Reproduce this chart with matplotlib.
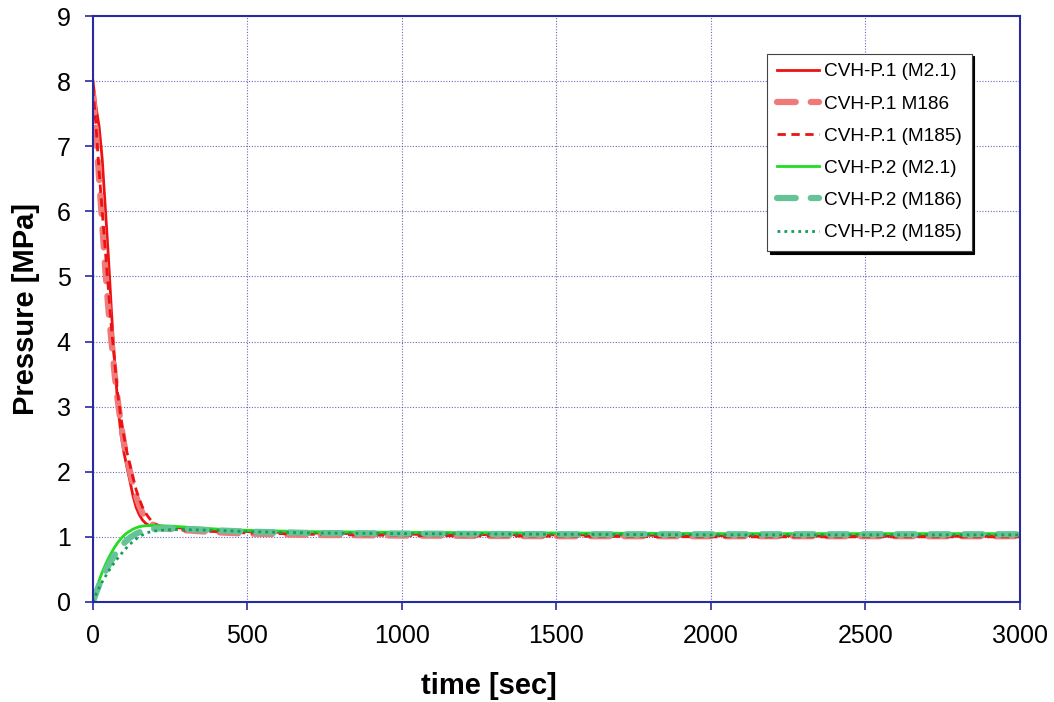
import matplotlib.pyplot as plt

plt.rcParams['font.family'] = ['Liberation Sans', 'DejaVu Sans']

# time [sec] sample points shared by all series
time = [0, 10, 20, 30, 40, 50, 60, 70, 80, 90, 100, 110, 120, 130, 140, 150,
        160, 170, 180, 190, 200, 220, 250, 300, 400, 500, 700, 1000, 1500,
        2000, 2500, 3000]

# pressure [MPa]
p1_m21 = [8.0, 7.6, 7.3, 6.8, 6.05, 5.3, 4.45, 3.7, 3.05, 2.6, 2.3, 2.07,
          1.85, 1.62, 1.45, 1.34, 1.26, 1.21, 1.18, 1.17, 1.165, 1.16, 1.15,
          1.13, 1.1, 1.08, 1.06, 1.04, 1.03, 1.02, 1.01, 1.01]
p1_m186 = [7.8, 7.2, 6.5, 5.8, 5.1, 4.5, 4.0, 3.5, 3.1, 2.75, 2.45, 2.2,
           2.0, 1.8, 1.62, 1.48, 1.37, 1.29, 1.24, 1.2, 1.17, 1.14, 1.12,
           1.1, 1.07, 1.05, 1.03, 1.02, 1.01, 1.01, 1.01, 1.01]
p1_m185 = [7.9, 7.3, 6.6, 6.0, 5.4, 4.8, 4.2, 3.7, 3.2, 2.85, 2.55, 2.3,
           2.1, 1.9, 1.72, 1.58, 1.46, 1.37, 1.3, 1.24, 1.2, 1.15, 1.12,
           1.1, 1.08, 1.06, 1.04, 1.02, 1.01, 1.0, 1.0, 1.0]
p2_m21 = [0.0, 0.18, 0.33, 0.46, 0.57, 0.67, 0.76, 0.84, 0.91, 0.97, 1.02,
          1.06, 1.09, 1.12, 1.14, 1.155, 1.165, 1.17, 1.175, 1.175, 1.175,
          1.17, 1.165, 1.15, 1.12, 1.1, 1.08, 1.07, 1.06, 1.05, 1.05, 1.05]
p2_m186 = [0.0, 0.14, 0.26, 0.37, 0.47, 0.56, 0.64, 0.72, 0.79, 0.85, 0.9,
           0.95, 0.99, 1.02, 1.05, 1.07, 1.09, 1.1, 1.11, 1.12, 1.125, 1.13,
           1.13, 1.12, 1.1, 1.08, 1.06, 1.05, 1.04, 1.04, 1.04, 1.04]
p2_m185 = [0.0, 0.12, 0.22, 0.31, 0.39, 0.47, 0.54, 0.61, 0.67, 0.73, 0.79,
           0.84, 0.89, 0.93, 0.97, 1.0, 1.03, 1.05, 1.07, 1.08, 1.09, 1.1,
           1.11, 1.11, 1.1, 1.08, 1.06, 1.05, 1.04, 1.03, 1.03, 1.03]

navy = '#2a2aa0'

fig = plt.figure(figsize=(10.54, 7.02), dpi=100)
ax = fig.add_axes([0.0882, 0.1425, 0.8795, 0.8347])

ax.plot(time, p1_m21, color='#ee1111', lw=2, label='CVH-P.1 (M2.1)')
ax.plot(time, p1_m186, color='#f07a7a', lw=4.5, dashes=(3, 2.4),
        dash_capstyle='round', label='CVH-P.1 M186')
ax.plot(time, p1_m185, color='#ee1111', lw=2, dashes=(3, 2),
        label='CVH-P.1 (M185)')
ax.plot(time, p2_m21, color='#22dd22', lw=2, label='CVH-P.2 (M2.1)')
ax.plot(time, p2_m186, color='#66c398', lw=4.5, dashes=(3, 2.4),
        dash_capstyle='round', label='CVH-P.2 (M186)')
ax.plot(time, p2_m185, color='#11a055', lw=2, dashes=(1, 1.5),
        label='CVH-P.2 (M185)')

ax.set_xlim(0, 3000)
ax.set_ylim(0, 9)
ax.set_xticks(range(0, 3001, 500))
ax.set_yticks(range(0, 10))
ax.grid(True, color=navy, ls=(0, (1, 1.5)), lw=0.8, alpha=0.7)
ax.set_axisbelow(True)

for sp in ax.spines.values():
    sp.set_color(navy)
    sp.set_linewidth(1.5)
ax.tick_params(direction='out', length=6, width=1.2, color=navy,
               labelsize=18, pad=10)

ax.set_xlabel('time [sec]', fontsize=21, fontweight='bold', labelpad=17,
              x=0.427)
ax.set_ylabel('Pressure [MPa]', fontsize=21, fontweight='bold', labelpad=12)

leg = ax.legend(loc='upper left', bbox_to_anchor=(0.717, 0.952),
                fontsize=13.7, fancybox=False, framealpha=1,
                edgecolor='#444444', handlelength=2.2, labelspacing=0.78,
                borderpad=0.5, handletextpad=0.3,
                shadow={'color': 'black', 'alpha': 1})
leg.get_frame().set_linewidth(0.8)

fig.savefig('out.png', dpi=100)
